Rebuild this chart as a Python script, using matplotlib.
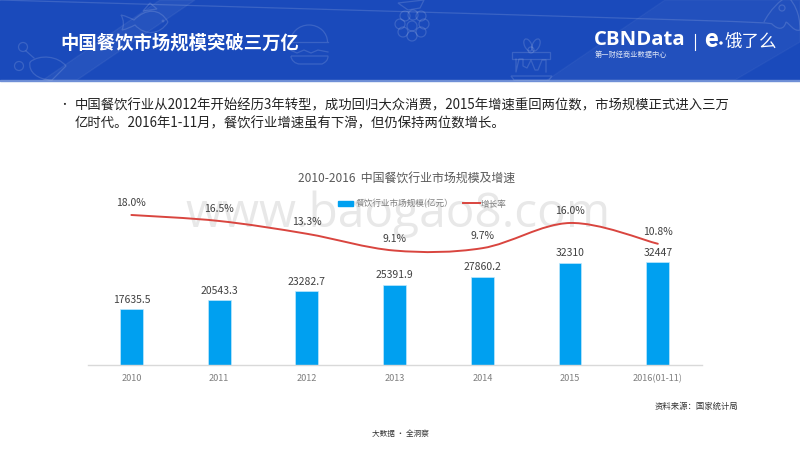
import numpy as np
import matplotlib
matplotlib.use("Agg")
import matplotlib.pyplot as plt
from matplotlib.path import Path
from matplotlib.patches import PathPatch, Circle, Ellipse, Rectangle, Polygon, Arc
from matplotlib.lines import Line2D

plt.rcParams['font.family'] = ['Noto Sans CJK SC', 'DejaVu Sans']

years = ['2010', '2011', '2012', '2013', '2014', '2015', '2016(01-11)']
market_size = [17635.5, 20543.3, 23282.7, 25391.9, 27860.2, 32310, 32447]
size_labels = ['17635.5', '20543.3', '23282.7', '25391.9', '27860.2', '32310', '32447']
growth_rate = [18.0, 16.5, 13.3, 9.1, 9.7, 16.0, 10.8]

W, H = 800, 450
BLUE = '#00A0F0'
RED = '#D9453F'
ICON_ALPHA = 0.14


def smooth_path(xs, ys):
    # same idea as the smoothed line in office charts, bezier through the points
    verts = [(xs[0], ys[0])]
    codes = [Path.MOVETO]
    n = len(xs)
    for i in range(n - 1):
        x0, y0 = xs[max(i - 1, 0)], ys[max(i - 1, 0)]
        x3, y3 = xs[min(i + 2, n - 1)], ys[min(i + 2, n - 1)]
        c1 = (xs[i] + (xs[i + 1] - x0) / 6, ys[i] + (ys[i + 1] - y0) / 6)
        c2 = (xs[i + 1] - (x3 - xs[i]) / 6, ys[i + 1] - (y3 - ys[i]) / 6)
        verts += [c1, c2, (xs[i + 1], ys[i + 1])]
        codes += [Path.CURVE4] * 3
    return Path(verts, codes)


def outline(pts):
    # pts: start point, then triples of bezier points
    return Path(pts, [Path.MOVETO] + [Path.CURVE4] * (len(pts) - 1))


fig = plt.figure(figsize=(8, 4.5), dpi=100, facecolor='white')

# page layer in pixel coordinates, y pointing down
page = fig.add_axes([0, 0, 1, 1], zorder=0)
page.set_xlim(0, W)
page.set_ylim(H, 0)
page.axis('off')

# header band
page.add_patch(Rectangle((0, 0), W, 80, color='#1A4ABB', zorder=1))
page.add_patch(Polygon([(547, 80), (665, 0), (800, 0), (800, 42), (735, 80)], color='white', alpha=0.035, zorder=2))
page.add_patch(Polygon([(43, 80), (160, 0), (195, 0), (77, 80)], color='white', alpha=0.05, zorder=2))
page.add_patch(Rectangle((0, 79.5), W, 1.5, color='#6F8FD6', zorder=2))

# faint food icons in the header
ic = dict(fill=False, ec='white', alpha=ICON_ALPHA, lw=0.9, zorder=3)
ln = dict(color='white', alpha=ICON_ALPHA, lw=0.9, zorder=3)
# fish
page.add_patch(PathPatch(outline([(168, 22), (160, 8), (146, 8), (134, 20), (130, 18), (126, 16), (121, 15),
                                  (124, 20), (124, 26), (122, 30), (127, 29), (131, 27), (135, 25),
                                  (145, 36), (160, 35), (168, 22)]), **ic))
page.add_patch(Polygon([(143, 11), (150, 3), (157, 9)], **ic))
page.add_patch(Circle((163, 21), 0.8, **ic))
# burger
page.add_patch(Arc((309, 42), 37, 34, theta1=180, theta2=360, **ic))
page.plot([290.5, 327.5], [42, 42], **ln)
page.plot([290, 297, 304, 311, 318, 328], [50, 53, 50, 53, 50, 52], **ln)
page.add_patch(PathPatch(outline([(291, 56), (291, 60), (295, 64), (300, 64), (310, 64), (320, 64), (322, 64),
                                  (326, 62), (328, 60), (328, 56), (316, 56), (303, 56), (291, 56)]), **ic))
# grapes
for gx, gy in [(412, 26), (405, 16), (413, 15), (421, 16), (400, 24), (424, 24),
               (403, 32), (421, 32), (412, 36)]:
    page.add_patch(Circle((gx, gy), 5, **ic))
page.add_patch(Polygon([(398, 3), (408, 10), (420, 8), (424, 0)], **ic))
# cake
page.add_patch(Rectangle((512, 52), 38, 7, **ic))
page.plot([516, 516, 519, 523, 523, 527, 531, 535, 538, 542, 546, 546],
          [59, 72, 59, 59, 66, 68, 60, 70, 70, 60, 60, 72], **ln)
page.add_patch(Polygon([(511, 76), (552, 76), (549, 80), (514, 80)], **ic))
page.add_patch(Ellipse((528, 45), 7, 13, angle=-25, **ic))
page.add_patch(Ellipse((536, 45), 7, 13, angle=25, **ic))
page.add_patch(Circle((531, 50), 3, **ic))
# chicken
page.add_patch(PathPatch(outline([(30, 62), (40, 54), (58, 56), (66, 66), (60, 72), (56, 76), (52, 80),
                                  (38, 80), (28, 72), (30, 62)]), **ic))
page.add_patch(Circle((23, 47), 4.5, **ic))
page.add_patch(Circle((19, 66), 4.5, **ic))
page.plot([26, 34], [51, 58], **ln)
# ice cream top right
page.add_patch(PathPatch(outline([(764, 22), (770, 10), (780, 0), (788, -4), (794, 4), (800, 12), (800, 30),
                                  (794, 32), (790, 24), (786, 22), (784, 30), (778, 30), (772, 24), (768, 22), (764, 22)]), **ic))
page.add_patch(Circle((782, 8), 3, **ic))

# header text and logos
page.text(60.5, 43.5, '中国餐饮市场规模突破三万亿', color='white', fontsize=13.2, fontweight='bold',
          ha='left', va='center', zorder=5)
page.text(594, 40, 'CBNData', color='white', fontsize=14.6, fontweight='bold', family='Open Sans',
          ha='left', va='center', zorder=5)
page.text(595, 55, '第一财经商业数据中心', color='white', alpha=0.85, fontsize=5.2,
          ha='left', va='center', zorder=5)
page.plot([695, 695], [34, 50], color='white', lw=0.8, zorder=5)
page.text(704, 40, 'e', color='white', fontsize=18, fontweight='bold', family='Roboto',
          ha='left', va='center', zorder=5)
page.add_patch(Circle((721, 43), 1, color='white', zorder=5))
page.text(725, 41.5, '饿了么', color='white', fontsize=12.6, ha='left', va='center', zorder=5)

# bullet text
page.text(59.5, 105, '•', color='#222222', fontsize=7, ha='left', va='center', zorder=5)
page.text(75, 105.3, '中国餐饮行业从2012年开始经历3年转型，成功回归大众消费，2015年增速重回两位数，市场规模正式进入三万',
          color='#222222', fontsize=9.6, ha='left', va='center', zorder=5)
page.text(75, 123, '亿时代。2016年1-11月，餐饮行业增速虽有下滑，但仍保持两位数增长。',
          color='#222222', fontsize=9.6, ha='left', va='center', zorder=5)

# watermark sits behind the chart
page.text(398.5, 227, 'www.baogao8.com', color='#E8E8E8', fontsize=34.4, family='Open Sans',
          ha='center', va='baseline', zorder=2)

# footer
page.text(738, 406, '资料来源：国家统计局', color='#333333', fontsize=6, ha='right', va='center', zorder=5)
page.text(400, 434, '大数据 · 全洞察', color='#333333', fontsize=5.5, ha='center', va='center', zorder=5)

# chart, axes box lines up with the baseline at y=365
left, right, top, bottom = 87.5, 701.7, 190.0, 365.3
ax = fig.add_axes([left / W, 1 - bottom / H, (right - left) / W, (bottom - top) / H], zorder=2)
ax.patch.set_alpha(0)
x = np.arange(len(years))
ax.bar(x, market_size, width=0.26, color=BLUE, edgecolor='#BFE8FC', linewidth=0.5, zorder=2)
ax.set_xlim(-0.5, len(years) - 0.5)
ax.set_ylim(0, 55300)
ax.set_yticks([])
ax.set_xticks(x)
ax.set_xticklabels(years, fontsize=6.6, color='#7F7F7F')
ax.tick_params(axis='x', length=0, pad=6.5)
for side in ['top', 'left', 'right']:
    ax.spines[side].set_visible(False)
ax.spines['bottom'].set_color('#D9D9D9')
ax.spines['bottom'].set_linewidth(1)

for xi, val, lab in zip(x, market_size, size_labels):
    ax.annotate(lab, (xi, val), xytext=(0, 9.5), textcoords='offset pixels', ha='center', va='center',
                fontsize=7.5, color='#404040')

ax2 = ax.twinx()
ax2.patch.set_alpha(0)
ax2.set_ylim(-19.6, 24.25)
ax2.set_yticks([])
for side in ax2.spines:
    ax2.spines[side].set_visible(False)
ax2.add_patch(PathPatch(smooth_path(x, growth_rate), fill=False, ec=RED, lw=1.4, capstyle='round'))
for xi, val in zip(x, growth_rate):
    ax2.annotate(f'{val:.1f}%', (xi, val), xytext=(0, 12), textcoords='offset pixels', ha='center', va='center',
                 fontsize=7.5, color='#404040')

# title and legend placed by hand like in the source slide
page2 = fig.add_axes([0, 0, 1, 1], zorder=3)
page2.set_xlim(0, W)
page2.set_ylim(H, 0)
page2.axis('off')
page2.text(406.5, 179, '2010-2016  中国餐饮行业市场规模及增速', color='#595959', fontsize=8.6,
           ha='center', va='center')
page2.add_patch(Rectangle((338, 201), 15, 4.5, color=BLUE))
page2.text(356, 204, '餐饮行业市场规模(亿元）', color='#7F7F7F', fontsize=6.2, ha='left', va='center')
page2.add_line(Line2D([463, 480], [203, 203], color=RED, lw=1.4))
page2.text(481, 204, '增长率', color='#7F7F7F', fontsize=6.2, ha='left', va='center')

fig.savefig('out.png', dpi=100)
